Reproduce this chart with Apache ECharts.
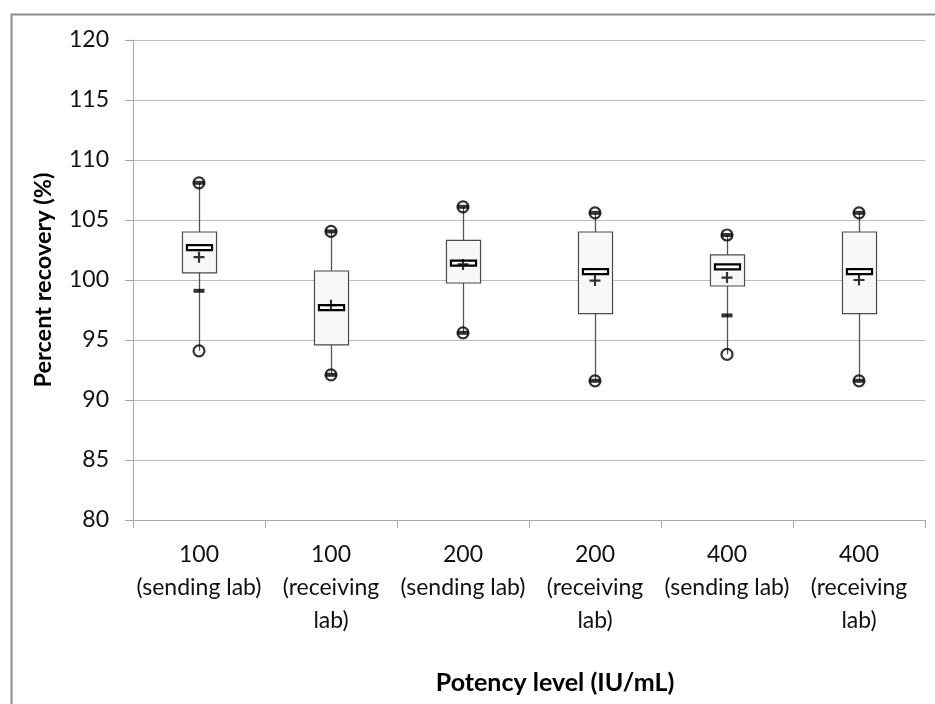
<!DOCTYPE html>
<html>
<head>
<meta charset="utf-8">
<script src="https://cdn.jsdelivr.net/npm/echarts@6/dist/echarts.min.js"></script>
<style>
html,body{margin:0;padding:0;background:#fff;}
#chart{width:935px;height:704px;}
</style>
</head>
<body>
<div id="chart"></div>
<script>
// ---- data ----
var categories = ['100\n(sending lab)', '100\n(receiving\nlab)', '200\n(sending lab)', '200\n(receiving\nlab)', '400\n(sending lab)', '400\n(receiving\nlab)'];
var minVals    = [94.1, 92.1, 95.6, 91.6, 93.8, 91.6];
var q1Vals     = [100.6, 94.6, 99.75, 97.2, 99.5, 97.2];
var medianVals = [102.7, 97.7, 101.4, 100.7, 101.1, 100.7];
var q3Vals     = [104.0, 100.75, 103.3, 104.0, 102.1, 104.0];
var maxVals    = [108.1, 104.05, 106.1, 105.6, 103.75, 105.6];
var meanVals   = [101.9, 97.9, 101.3, 99.95, 100.2, 100.0];
var lowPctVals = [99.1, 92.1, 95.6, 91.6, 97.05, 91.6];
var highPctVals= [108.1, 104.05, 106.1, 105.6, 103.75, 105.6];
var yTicks = {min: 80, max: 120, interval: 5};

var boxData = categories.map(function (c, i) {
  return [i, minVals[i], q1Vals[i], medianVals[i], q3Vals[i], maxVals[i]];
});
function pts(arr) { return arr.map(function (v, i) { return [i, v]; }); }

var FONT = 'Lato';

function renderBox(params, api) {
  var x = api.value(0);
  var lo = api.coord([x, api.value(1)]);
  var q1 = api.coord([x, api.value(2)]);
  var med = api.coord([x, api.value(3)]);
  var q3 = api.coord([x, api.value(4)]);
  var hi = api.coord([x, api.value(5)]);
  var band = api.size([1, 0])[0];
  var bw = band * 0.258;
  var mw = band * 0.19;
  var cx = Math.round(lo[0]) + 0.5;
  return {
    type: 'group',
    children: [
      {type: 'line', shape: {x1: cx, y1: hi[1], x2: cx, y2: lo[1]},
       style: {stroke: '#555', lineWidth: 1.3}, z2: 1},
      {type: 'rect', shape: {x: cx - bw / 2, y: q3[1], width: bw, height: q1[1] - q3[1]},
       style: {fill: '#f8f8f8', stroke: '#4a4a4a', lineWidth: 1.2}, z2: 2},
      {type: 'rect', shape: {x: cx - mw / 2, y: med[1] - 2.5, width: mw, height: 5},
       style: {fill: '#fff', stroke: '#000', lineWidth: 2.2}, z2: 3}
    ]
  };
}

var chart = echarts.init(document.getElementById('chart'), null, {renderer: 'canvas'});
chart.setOption({
  animation: false,
  backgroundColor: '#fff',
  graphic: [{
    type: 'rect', left: 9, top: 12, silent: true,
    shape: {x: 0, y: 0, width: 1000, height: 1000},
    style: {fill: 'none', stroke: '#8c8c8c', lineWidth: 2}, z: -10
  }],
  grid: {left: 133, right: 10, top: 40, bottom: 184, containLabel: false},
  xAxis: {
    type: 'category',
    data: categories,
    boundaryGap: true,
    name: 'Potency level (IU/mL)',
    nameLocation: 'middle',
    nameGap: 150,
    nameTextStyle: {fontFamily: FONT, fontWeight: 'bold', fontSize: 25, color: '#000', padding: [0, 0, 0, 52]},
    axisLine: {lineStyle: {color: '#a6a6a6', width: 1}},
    axisTick: {show: true, length: 8, lineStyle: {color: '#a6a6a6'}},
    axisLabel: {fontFamily: FONT, fontSize: 23, color: '#111', lineHeight: 33, margin: 18, interval: 0},
    splitLine: {show: false}
  },
  yAxis: {
    type: 'value',
    min: yTicks.min, max: yTicks.max, interval: yTicks.interval,
    name: 'Percent recovery (%)',
    nameLocation: 'middle',
    nameGap: 78,
    nameRotate: 90,
    nameTextStyle: {fontFamily: FONT, fontWeight: 'bold', fontSize: 23.5, color: '#000'},
    axisLine: {show: true, lineStyle: {color: '#a6a6a6', width: 1}},
    axisTick: {show: true, length: 8, lineStyle: {color: '#a6a6a6'}},
    axisLabel: {fontFamily: FONT, fontSize: 23, color: '#111', margin: 24},
    splitLine: {show: true, lineStyle: {color: '#bdbdbd', width: 1}}
  },
  series: [
    {type: 'custom', renderItem: renderBox, data: boxData, z: 2,
     encode: {x: 0, y: [1, 2, 3, 4, 5]}},
    {type: 'scatter', name: 'min', data: pts(minVals), symbol: 'circle', symbolSize: 11, z: 3,
     itemStyle: {color: 'rgba(0,0,0,0)', borderColor: '#000', borderWidth: 2.2}},
    {type: 'scatter', name: 'max', data: pts(maxVals), symbol: 'circle', symbolSize: 11, z: 3,
     itemStyle: {color: 'rgba(0,0,0,0)', borderColor: '#000', borderWidth: 2.2}},
    {type: 'scatter', name: 'low', data: pts(lowPctVals), symbol: 'rect', symbolSize: [11, 4], z: 4,
     itemStyle: {color: '#000'}},
    {type: 'scatter', name: 'high', data: pts(highPctVals), symbol: 'rect', symbolSize: [11, 4], z: 4,
     itemStyle: {color: '#000'}},
    {type: 'scatter', name: 'mean', data: pts(meanVals), z: 5,
     symbol: 'path://M4,0h2v10h-2zM0,4h10v2h-10z', symbolSize: 11,
     itemStyle: {color: '#000'}}
  ]
});
</script>
</body>
</html>
